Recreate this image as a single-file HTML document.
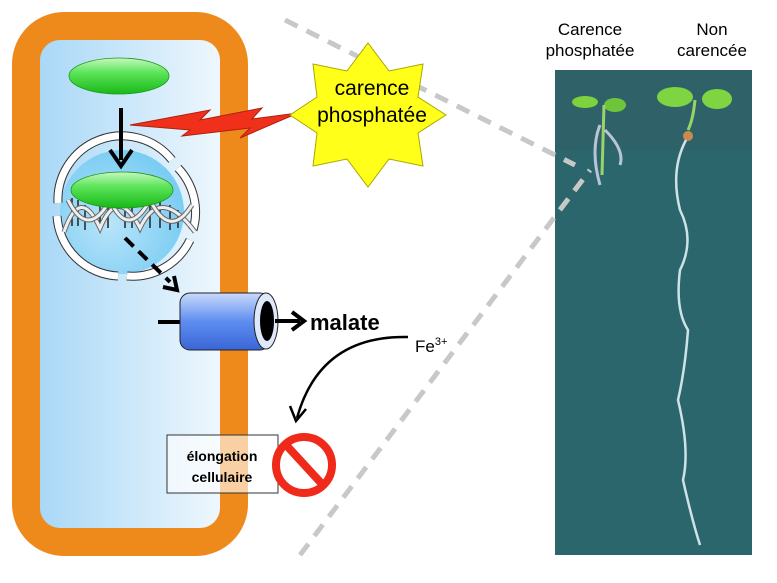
<!DOCTYPE html>
<html><head><meta charset="utf-8"><style>
html,body{margin:0;padding:0;background:#fff;}
svg{display:block;}
</style></head><body>
<svg width="777" height="583" viewBox="0 0 777 583" xmlns="http://www.w3.org/2000/svg" font-family="Liberation Sans, sans-serif">
<defs>
<linearGradient id="cell" x1="0" y1="0" x2="1" y2="0">
<stop offset="0" stop-color="#a9d8f7"/><stop offset="1" stop-color="#eef7fd"/></linearGradient>
<radialGradient id="nuc" cx="0.4" cy="0.6" r="0.6"><stop offset="0" stop-color="#b8e4fa"/><stop offset="1" stop-color="#7ccdf3"/></radialGradient>
<linearGradient id="green" x1="0" y1="0" x2="0" y2="1"><stop offset="0" stop-color="#c8f7c0"/><stop offset="0.4" stop-color="#5de55a"/><stop offset="1" stop-color="#18b818"/></linearGradient>
<linearGradient id="blue" x1="0" y1="0" x2="0" y2="1"><stop offset="0" stop-color="#c9dafb"/><stop offset="0.5" stop-color="#5e8df0"/><stop offset="1" stop-color="#3a66d6"/></linearGradient>
</defs>
<!-- photo -->
<rect x="555" y="70" width="197" height="485" fill="#2b666d"/>
<rect x="555" y="70" width="197" height="80" fill="#315f66" opacity="0.6"/>
<ellipse cx="585" cy="102" rx="13" ry="6" fill="#7dd23e"/><ellipse cx="615" cy="105" rx="11" ry="7" fill="#6ec43a"/>
<path d="M604 105 L602 175" stroke="#9bd36a" stroke-width="3"/>
<path d="M600 125 Q590 150 600 185 M605 130 Q625 150 620 165" stroke="#dde" stroke-width="3" fill="none" opacity="0.8"/>
<ellipse cx="675" cy="97" rx="18" ry="10" fill="#7fd442"/><ellipse cx="717" cy="99" rx="15" ry="10" fill="#7fd442"/>
<path d="M695 100 Q693 120 688 130" stroke="#9bd36a" stroke-width="3" fill="none"/>
<circle cx="688" cy="136" r="5" fill="#c98a50"/>
<path d="M686 140 Q670 170 680 210 Q695 240 680 270 Q675 310 688 330 Q685 370 678 400 Q690 450 683 480 Q692 520 700 545" stroke="#cfe3e6" stroke-width="2.5" fill="none"/>
<!-- dashed zoom lines -->
<line x1="285" y1="20" x2="575" y2="165" stroke="#c8c8c8" stroke-width="5" stroke-dasharray="14,10"/>
<line x1="300" y1="555" x2="590" y2="170" stroke="#c8c8c8" stroke-width="5" stroke-dasharray="14,10"/>
<!-- cell -->
<rect x="12" y="12" width="236" height="544" rx="52" fill="#ee8a1b"/>
<rect x="40" y="40" width="180" height="488" rx="20" fill="url(#cell)"/>
<!-- nucleus -->
<circle cx="122" cy="212" r="62" fill="url(#nuc)"/>
<g fill="none">
<path d="M58 203 A64 64 0 0 1 172 160" stroke-width="9" stroke="#333"/>
<path d="M58 203 A64 64 0 0 1 172 160" stroke-width="7" stroke="#fff"/>
<path d="M178 168 A64 64 0 0 1 193 230" stroke-width="9" stroke="#333"/>
<path d="M178 168 A64 64 0 0 1 193 230" stroke-width="7" stroke="#fff"/>
<path d="M190 240 A64 64 0 0 1 127 276" stroke-width="9" stroke="#333"/>
<path d="M190 240 A64 64 0 0 1 127 276" stroke-width="7" stroke="#fff"/>
<path d="M118 276 A64 64 0 0 1 57 216" stroke-width="9" stroke="#333"/>
<path d="M118 276 A64 64 0 0 1 57 216" stroke-width="7" stroke="#fff"/>
</g>
<!-- DNA -->
<g stroke="#222" stroke-width="1.5">
<line x1="72" y1="198" x2="72" y2="226"/><line x1="78" y1="200" x2="78" y2="226"/><line x1="85" y1="205" x2="85" y2="230"/>
<line x1="100" y1="205" x2="100" y2="228"/><line x1="108" y1="205" x2="108" y2="228"/><line x1="125" y1="205" x2="125" y2="228"/>
<line x1="132" y1="205" x2="132" y2="228"/><line x1="150" y1="205" x2="150" y2="228"/><line x1="160" y1="202" x2="160" y2="228"/>
<line x1="170" y1="205" x2="170" y2="230"/><line x1="178" y1="210" x2="178" y2="228"/>
</g>
<path d="M64 232 Q80 185 100 228 Q118 185 140 228 Q160 185 195 232" fill="none" stroke="#666" stroke-width="5"/>
<path d="M64 232 Q80 185 100 228 Q118 185 140 228 Q160 185 195 232" fill="none" stroke="#eee" stroke-width="3"/>
<path d="M68 200 Q88 240 110 200 Q128 240 150 200 Q170 240 192 205" fill="none" stroke="#666" stroke-width="5"/>
<path d="M68 200 Q88 240 110 200 Q128 240 150 200 Q170 240 192 205" fill="none" stroke="#eee" stroke-width="3"/>
<!-- green ellipses -->
<ellipse cx="119" cy="76" rx="50" ry="18" fill="url(#green)" stroke="#1a9a1a" stroke-width="0.8"/>
<ellipse cx="122" cy="190" rx="51" ry="18" fill="url(#green)" stroke="#1a9a1a" stroke-width="0.8"/>
<!-- arrow down -->
<line x1="121" y1="108" x2="121" y2="160" stroke="#000" stroke-width="4"/>
<path d="M110 150 L121 166 L132 150" fill="none" stroke="#000" stroke-width="4"/>
<!-- dashed arrow -->
<line x1="125" y1="238" x2="170" y2="282" stroke="#000" stroke-width="4" stroke-dasharray="12,7"/>
<path d="M163 287 L177 290 L174 276" fill="none" stroke="#000" stroke-width="4"/>
<!-- lightning -->
<polygon points="130,125 210,110 200,120 262,108 252,119 298,113 240,138 250,128 182,136 190,130" fill="#f0301a" stroke="#b02010" stroke-width="1"/>
<!-- starburst -->
<polygon points="446,115 418,133 423,166 389,159 368,187 347,159 313,166 317,133 290,115 317,97 313,64 347,71 368,43 389,71 423,64 418,97" fill="#ffff1a" stroke="#a8a800" stroke-width="1"/>
<text x="372" y="95" font-size="21" text-anchor="middle">carence</text>
<text x="372" y="122" font-size="21" text-anchor="middle">phosphatée</text>
<!-- transporter -->
<line x1="158" y1="322" x2="185" y2="322" stroke="#000" stroke-width="4"/>
<rect x="180" y="293" width="90" height="57" rx="10" fill="url(#blue)" stroke="#222" stroke-width="1"/>
<ellipse cx="266" cy="321" rx="12" ry="28" fill="#dfe8fb" stroke="#222" stroke-width="1"/>
<ellipse cx="267" cy="321" rx="7" ry="20" fill="#000"/>
<line x1="275" y1="321" x2="300" y2="321" stroke="#000" stroke-width="4"/>
<path d="M292 312 L304 321 L292 330" fill="none" stroke="#000" stroke-width="4"/>
<text x="310" y="330" font-size="22" font-weight="bold">malate</text>
<text x="415" y="352" font-size="17">Fe<tspan font-size="11" dy="-7">3+</tspan></text>
<!-- curved arrow -->
<path d="M408 337 Q320 335 297 418" fill="none" stroke="#000" stroke-width="2.5"/>
<path d="M290 406 L296 421 L306 409" fill="none" stroke="#000" stroke-width="2.5"/>
<!-- elongation box -->
<rect x="167" y="435" width="111" height="58" fill="#fff" fill-opacity="0.6" stroke="#333" stroke-width="1"/>
<text x="222" y="461" font-size="14" font-weight="bold" text-anchor="middle">élongation</text>
<text x="222" y="482" font-size="14" font-weight="bold" text-anchor="middle">cellulaire</text>
<!-- no sign -->
<circle cx="304" cy="465" r="28" fill="#fff" stroke="#f02a1a" stroke-width="8"/>
<line x1="287" y1="446" x2="322" y2="484" stroke="#f02a1a" stroke-width="8"/>
<text x="590" y="35" font-size="17" text-anchor="middle">Carence</text>
<text x="590" y="56" font-size="17" text-anchor="middle">phosphatée</text>
<text x="712" y="35" font-size="17" text-anchor="middle">Non</text>
<text x="712" y="56" font-size="17" text-anchor="middle">carencée</text>
</svg>
</body></html>
